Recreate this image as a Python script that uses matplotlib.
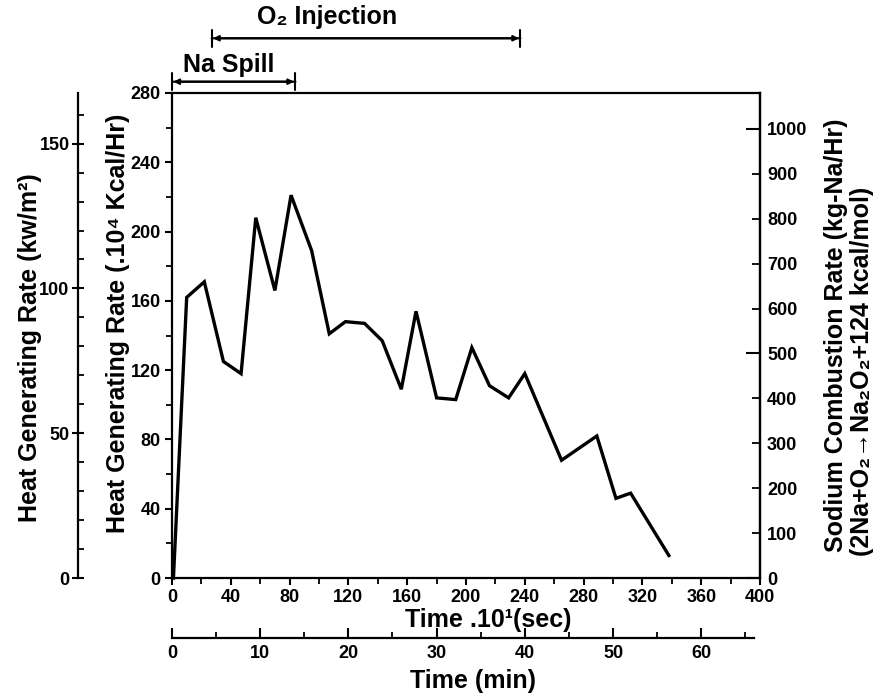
import matplotlib
matplotlib.use("Agg")
import matplotlib.pyplot as plt
from matplotlib.ticker import MultipleLocator, FixedLocator

# data (time in 10 s units, heat in 10^4 kcal/hr)
time_10s = [1, 10, 22, 35, 47, 57, 70, 81, 95, 107, 118, 131, 143, 156, 166,
            180, 193, 204, 216, 229, 240, 265, 289, 302, 312, 338]
heat = [0, 162, 171, 125, 118, 208, 166, 221, 189, 141, 148, 147, 137, 109, 154,
        104, 103, 133, 111, 104, 118, 68, 82, 46, 49, 13]

x_ticks = [0, 40, 80, 120, 160, 200, 240, 280, 320, 360, 400]
y_ticks = [0, 40, 80, 120, 160, 200, 240, 280]
kw_ticks = [0, 50, 100, 150]
na_ticks = [0, 100, 200, 300, 400, 500, 600, 700, 800, 900, 1000]
min_ticks = [0, 10, 20, 30, 40, 50, 60]

na_spill = (0, 84)
o2_injection = (27, 237)

plt.rcParams['font.family'] = ['Liberation Sans', 'DejaVu Sans']
plt.rcParams['font.weight'] = 'bold'
plt.rcParams['axes.linewidth'] = 1.6

TICK_FS = 13
LABEL_FS = 18

fig = plt.figure(figsize=(8.86, 6.95), dpi=100)
ax = fig.add_axes([0.1941, 0.1683, 0.6637, 0.6979])

ax.plot(time_10s, heat, color="black", lw=2.4, solid_joinstyle="miter", clip_on=False)
ax.set_xlim(0, 400)
ax.set_ylim(0, 280)

ax.set_xticks(x_ticks)
ax.xaxis.set_minor_locator(MultipleLocator(20))
ax.set_yticks(y_ticks)
ax.yaxis.set_minor_locator(MultipleLocator(20))
ax.tick_params(axis="both", which="major", direction="out", length=5, width=1.5,
               labelsize=TICK_FS, pad=3)
ax.tick_params(axis="both", which="minor", direction="out", length=4, width=1.3)
ax.tick_params(axis="y", which="both", right=False)
ax.tick_params(axis="x", which="both", top=False)

# outer left axis: kw/m^2
ax_kw = ax.twinx()
ax_kw.yaxis.set_ticks_position("left")
ax_kw.spines["left"].set_position(("axes", -0.16))
for s in ["right", "top", "bottom"]:
    ax_kw.spines[s].set_visible(False)
ax_kw.spines["left"].set_visible(True)
ax_kw.set_ylim(0, 167.5)
ax_kw.set_yticks(kw_ticks)
ax_kw.yaxis.set_minor_locator(MultipleLocator(10))
ax_kw.tick_params(axis="y", which="major", direction="inout", length=8, width=1.5,
                  labelsize=TICK_FS, pad=2)
ax_kw.tick_params(axis="y", which="minor", direction="in", length=4, width=1.3)

# right axis: sodium combustion rate
ax_na = ax.twinx()
for s in ["left", "top", "bottom"]:
    ax_na.spines[s].set_visible(False)
ax_na.set_ylim(0, 1080)
ax_na.set_yticks([0, 500, 1000])
ax_na.set_yticks([t for t in na_ticks if t % 500], minor=True,
                 labels=[str(t) for t in na_ticks if t % 500])
ax_na.tick_params(axis="y", which="major", direction="in", length=10, width=1.5,
                  labelsize=TICK_FS, pad=5)
ax_na.tick_params(axis="y", which="minor", direction="in", length=6, width=1.3,
                  labelsize=TICK_FS, pad=5)

# second time axis in minutes
ax_min = ax.twiny()
ax_min.xaxis.set_ticks_position("bottom")
ax_min.spines["bottom"].set_position(("axes", -0.124))
for s in ["left", "right", "top"]:
    ax_min.spines[s].set_visible(False)
ax_min.spines["bottom"].set_bounds(0, 66)
ax_min.set_xlim(0, 400 / 6)
ax_min.set_xticks(min_ticks)
ax_min.xaxis.set_minor_locator(FixedLocator([5, 15, 25, 35, 45, 55, 65]))
ax_min.tick_params(axis="x", which="major", direction="in", length=7, width=1.5,
                   labelsize=TICK_FS, pad=5)
ax_min.tick_params(axis="x", which="minor", direction="in", length=4, width=1.3)

# axis labels
fig.text(30 / 886, 1 - 348 / 695, "Heat Generating Rate (kw/m²)", rotation=90,
         ha="center", va="center", fontsize=LABEL_FS)
fig.text(118 / 886, 1 - 323 / 695, "Heat Generating Rate (.10⁴ Kcal/Hr)", rotation=90,
         ha="center", va="center", fontsize=LABEL_FS)
fig.text(836 / 886, 1 - 335 / 695, "Sodium Combustion Rate (kg-Na/Hr)", rotation=90,
         ha="center", va="center", fontsize=LABEL_FS)
fig.text(862 / 886, 1 - 371 / 695, "(2Na+O₂→Na₂O₂+124 kcal/mol)", rotation=90,
         ha="center", va="center", fontsize=LABEL_FS)
fig.text(488 / 886, 1 - 620 / 695, "Time .10¹(sec)", ha="center", va="center",
         fontsize=LABEL_FS)
fig.text(473 / 886, 1 - 681 / 695, "Time (min)", ha="center", va="center",
         fontsize=LABEL_FS)

# event bars above the plot
trans = ax.get_xaxis_transform()
for (x0, x1), yb, label, xt, yt in [(na_spill, 1.0233, "Na Spill", 38.8, 1.0577),
                                     (o2_injection, 1.1128, "O₂ Injection", 105.4, 1.1567)]:
    ax.annotate("", xy=(x0, yb), xytext=(x1, yb), xycoords=trans, textcoords=trans,
                arrowprops=dict(arrowstyle="|-|", lw=1.5, color="black",
                                mutation_scale=6, shrinkA=0, shrinkB=0),
                annotation_clip=False)
    ax.annotate("", xy=(x0, yb), xytext=(x1, yb), xycoords=trans, textcoords=trans,
                arrowprops=dict(arrowstyle="<|-|>", lw=1.5, color="black",
                                mutation_scale=8, shrinkA=1, shrinkB=1),
                annotation_clip=False)
    ax.text(xt, yt, label, transform=trans, ha="center", va="center",
            fontsize=LABEL_FS, clip_on=False)

fig.savefig("out.png", dpi=100)
